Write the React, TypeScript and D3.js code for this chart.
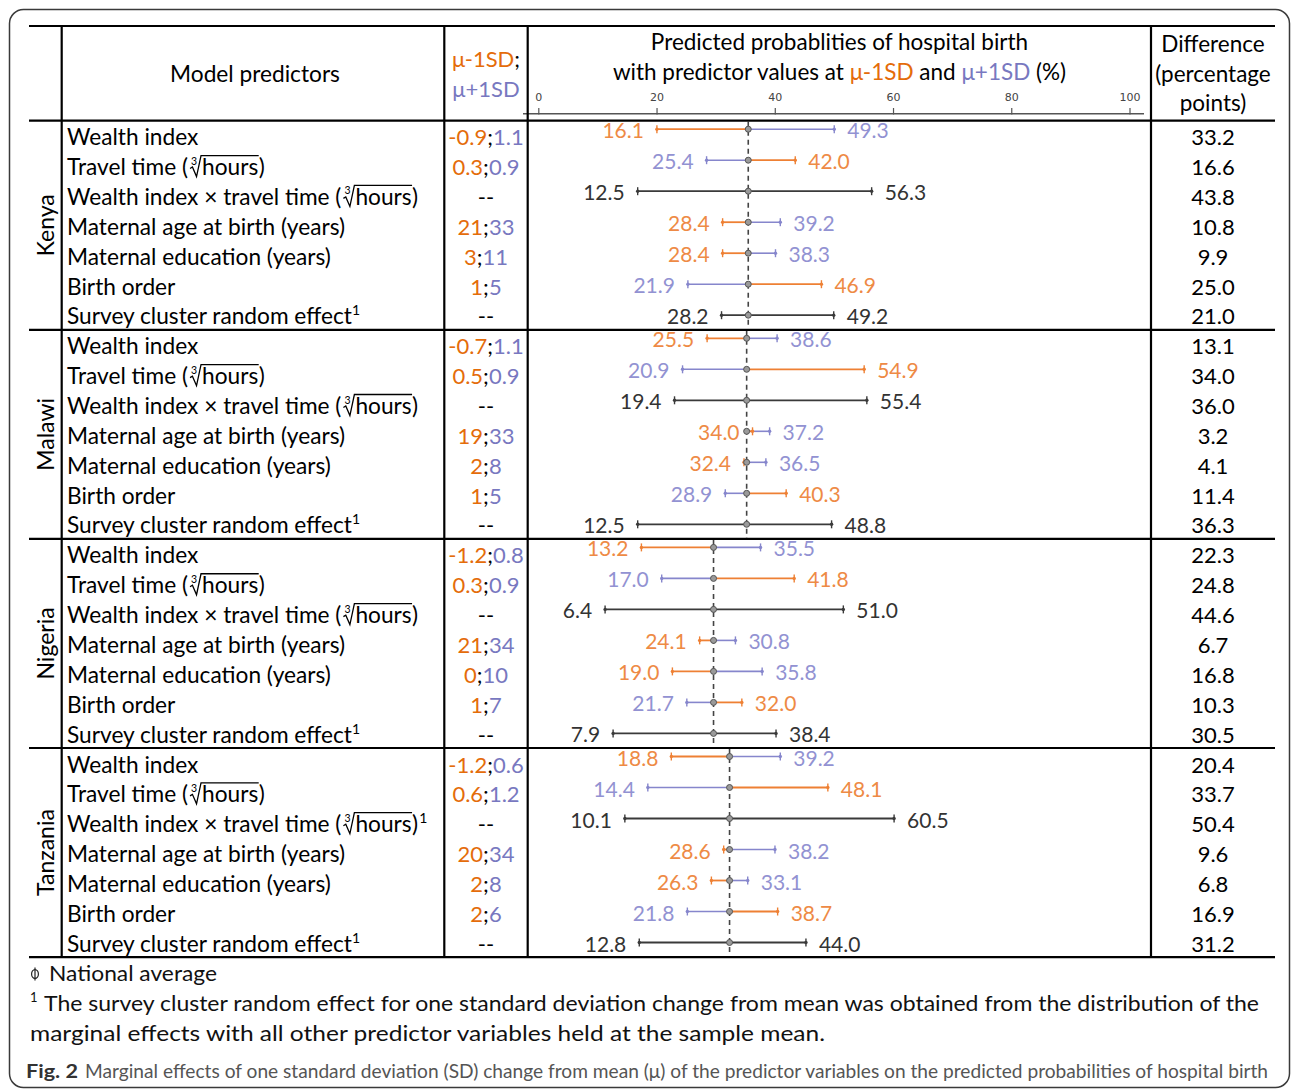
import React from 'react';
import * as d3 from 'd3';

// ---------- data ----------
const countries = ['Kenya', 'Malawi', 'Nigeria', 'Tanzania'];
const nationalAverage = [33.2, 32.9, 26.7, 29.7];

// predictor kinds (label rendering), index 2 and 6 are black (two-sided) rows
const predictorKinds = ['wealth', 'travel', 'interaction', 'age', 'education', 'birth', 'survey'];
const blackRows = [2, 6];

// μ-1SD ; μ+1SD predictor values
const kenyaSD = [['-0.9', '1.1'], ['0.3', '0.9'], null, ['21', '33'], ['3', '11'], ['1', '5'], null];
const malawiSD = [['-0.7', '1.1'], ['0.5', '0.9'], null, ['19', '33'], ['2', '8'], ['1', '5'], null];
const nigeriaSD = [['-1.2', '0.8'], ['0.3', '0.9'], null, ['21', '34'], ['0', '10'], ['1', '7'], null];
const tanzaniaSD = [['-1.2', '0.6'], ['0.6', '1.2'], null, ['20', '34'], ['2', '8'], ['2', '6'], null];

// predicted probability at μ-1SD (orange) – or lower bound for black rows
const kenyaLow = [16.1, 42.0, 12.5, 28.4, 28.4, 46.9, 28.2];
const malawiLow = [25.5, 54.9, 19.4, 34.0, 32.4, 40.3, 12.5];
const nigeriaLow = [13.2, 41.8, 6.4, 24.1, 19.0, 32.0, 7.9];
const tanzaniaLow = [18.8, 48.1, 10.1, 28.6, 26.3, 38.7, 12.8];

// predicted probability at μ+1SD (purple) – or upper bound for black rows
const kenyaHigh = [49.3, 25.4, 56.3, 39.2, 38.3, 21.9, 49.2];
const malawiHigh = [38.6, 20.9, 55.4, 37.2, 36.5, 28.9, 48.8];
const nigeriaHigh = [35.5, 17.0, 51.0, 30.8, 35.8, 21.7, 38.4];
const tanzaniaHigh = [39.2, 14.4, 60.5, 38.2, 33.1, 21.8, 44.0];

// difference (percentage points)
const kenyaDiff = ['33.2', '16.6', '43.8', '10.8', '9.9', '25.0', '21.0'];
const malawiDiff = ['13.1', '34.0', '36.0', '3.2', '4.1', '11.4', '36.3'];
const nigeriaDiff = ['22.3', '24.8', '44.6', '6.7', '16.8', '10.3', '30.5'];
const tanzaniaDiff = ['20.4', '33.7', '50.4', '9.6', '6.8', '16.9', '31.2'];

const axisTicks = [0, 20, 40, 60, 80, 100];

const sdTable = [kenyaSD, malawiSD, nigeriaSD, tanzaniaSD];
const lowTable = [kenyaLow, malawiLow, nigeriaLow, tanzaniaLow];
const highTable = [kenyaHigh, malawiHigh, nigeriaHigh, tanzaniaHigh];
const diffTable = [kenyaDiff, malawiDiff, nigeriaDiff, tanzaniaDiff];

// ---------- styling ----------
const FONT = "Lato, 'Open Sans', sans-serif";
const ORANGE_T = '#E46C0A';
const PURPLE_T = '#7878C0';
const ORANGE_M = '#EE8034';
const PURPLE_M = '#8686CC';
const ORANGE_L = '#EE8A45';
const PURPLE_L = '#9292D2';
const BLACK_M = '#3A3A3A';

const W = 1292;
const H = 1090;

const LABEL_SIZE = 22.7;

const tableLeft = 29;
const tableRight = 1275;
const colX = [61.7, 444.3, 527.7, 1151];
const tableTop = 26;
const headerBottom = 120.7;
const sectionH = 209.1;
const rowH = 29.86;
const barStep = 31;

// data scale (as used for the marks) and the drawn axis scale
const xData = d3.scaleLinear().domain([0, 100]).range([570.9, 1105.1]);
const xAxis = d3.scaleLinear().domain([0, 100]).range([538.8, 1130]);

let measureCtx: CanvasRenderingContext2D | null = null;
function measure(text: string, size: number) {
  if (!measureCtx) {
    const c = document.createElement('canvas');
    measureCtx = c.getContext('2d');
  }
  if (!measureCtx) return text.length * size * 0.5;
  measureCtx.font = `${size}px Lato`;
  return measureCtx.measureText(text).width;
}

function RootLabel({ x, y, prefix, sup }: { x: number; y: number; prefix: string; sup: boolean }) {
  const wPre = measure(prefix, LABEL_SIZE);
  const r0 = x + wPre + 1;
  const hx = r0 + 13;
  const wH = measure('hours', LABEL_SIZE);
  const close = hx + wH + 0.5;
  const wClose = measure(')', LABEL_SIZE);
  const top = y - 19.5;
  const path = `M${r0 + 1},${y - 6.5} L${r0 + 3.4},${y - 8} L${r0 + 7.5},${y + 1.5} L${r0 + 12},${top} L${close},${top}`;
  return (
    <g fontFamily={FONT} fill="#000">
      <text x={x} y={y} fontSize={LABEL_SIZE}>{prefix}</text>
      <text x={r0 + 2} y={y - 10.5} fontSize={10.5}>3</text>
      <path d={path} fill="none" stroke="#000" strokeWidth={1.3} />
      <text x={hx} y={y} fontSize={LABEL_SIZE}>hours</text>
      <text x={close} y={y} fontSize={LABEL_SIZE}>)</text>
      {sup ? <text x={close + wClose + 1} y={y - 9} fontSize={14}>1</text> : null}
    </g>
  );
}

function PredictorLabel({ kind, country, x, y }: { kind: string; country: number; x: number; y: number }) {
  const plain = (s: string) => (
    <text x={x} y={y} fontSize={LABEL_SIZE} fontFamily={FONT} fill="#000">{s}</text>
  );
  switch (kind) {
    case 'wealth':
      return plain('Wealth index');
    case 'travel':
      return <RootLabel x={x} y={y} prefix="Travel time (" sup={false} />;
    case 'interaction':
      return <RootLabel x={x} y={y} prefix="Wealth index × travel time (" sup={country === 3} />;
    case 'age':
      return plain('Maternal age at birth (years)');
    case 'education':
      return plain('Maternal education (years)');
    case 'birth':
      return plain('Birth order');
    default:
      return (
        <text x={x} y={y} fontSize={LABEL_SIZE} fontFamily={FONT} fill="#000">
          <tspan>Survey cluster random effect</tspan>
          <tspan fontSize={14} dy={-9}>1</tspan>
        </text>
      );
  }
}

function EndMark({ x, y, color }: { x: number; y: number; color: string }) {
  return (
    <g>
      <line x1={x} x2={x} y1={y - 4} y2={y + 4} stroke={color} strokeWidth={1.4} />
      <circle cx={x} cy={y} r={1.7} fill={color} />
    </g>
  );
}

export default function App() {
  const sections = countries.map((c, ci) => {
    const top = headerBottom + ci * sectionH;
    const bottom = top + sectionH;
    const mean = nationalAverage[ci];
    const mx = xData(mean);
    return (
      <g key={c}>
        <text
          transform={`translate(54,${(top + bottom) / 2}) rotate(-90)`}
          textAnchor="middle"
          fontSize={23}
          fontFamily={FONT}
          fill="#000"
        >
          {c}
        </text>
        <line x1={mx} x2={mx} y1={top + 1} y2={bottom - 1} stroke="#444" strokeWidth={1.6} strokeDasharray="5,4" />
        {predictorKinds.map((kind, ri) => {
          const baseY = top + 24.5 + ri * rowH;
          const barY = top + 8.5 + ri * barStep;
          const sd = sdTable[ci][ri];
          const lo = lowTable[ci][ri];
          const hi = highTable[ci][ri];
          const isBlack = blackRows.includes(ri);
          const minV = Math.min(lo, hi);
          const maxV = Math.max(lo, hi);
          const loColor = isBlack ? BLACK_M : ORANGE_M;
          const hiColor = isBlack ? BLACK_M : PURPLE_M;
          const loLab = isBlack ? '#333' : ORANGE_L;
          const hiLab = isBlack ? '#333' : PURPLE_L;
          const minLab = minV === lo ? loLab : hiLab;
          const maxLab = maxV === lo ? loLab : hiLab;
          return (
            <g key={kind}>
              <PredictorLabel kind={kind} country={ci} x={67} y={baseY} />
              <text x={486} y={baseY} fontSize={22} fontFamily={FONT} textAnchor="middle" fill="#000">
                {sd ? (
                  <>
                    <tspan fill={ORANGE_T}>{sd[0]}</tspan>
                    <tspan fill="#000">;</tspan>
                    <tspan fill={PURPLE_T}>{sd[1]}</tspan>
                  </>
                ) : (
                  <tspan fill="#000">--</tspan>
                )}
              </text>
              <text x={1213} y={baseY} fontSize={22} fontFamily={FONT} textAnchor="middle" fill="#000">
                {diffTable[ci][ri]}
              </text>
              {isBlack ? (
                <line x1={xData(minV)} x2={xData(maxV)} y1={barY} y2={barY} stroke={BLACK_M} strokeWidth={1.8} />
              ) : (
                <>
                  <line x1={mx} x2={xData(hi)} y1={barY} y2={barY} stroke={hiColor} strokeWidth={1.6} />
                  <line x1={mx} x2={xData(lo)} y1={barY} y2={barY} stroke={loColor} strokeWidth={1.8} />
                </>
              )}
              <EndMark x={xData(hi)} y={barY} color={hiColor} />
              <EndMark x={xData(lo)} y={barY} color={loColor} />
              <circle cx={mx} cy={barY} r={3} fill="#9a9a9a" stroke="#555" strokeWidth={1} />
              <text x={xData(minV) - 13} y={barY + 9} fontSize={21} fontFamily={FONT} textAnchor="end" fill={minLab}>
                {minV.toFixed(1)}
              </text>
              <text x={xData(maxV) + 13} y={barY + 9} fontSize={21} fontFamily={FONT} fill={maxLab}>
                {maxV.toFixed(1)}
              </text>
            </g>
          );
        })}
      </g>
    );
  });

  const hLines = [tableTop, headerBottom, ...countries.map((_, i) => headerBottom + (i + 1) * sectionH)];
  const tableBottom = headerBottom + countries.length * sectionH;

  return (
    <svg
      width={W}
      height={H}
      viewBox={`0 0 ${W} ${H}`}
      style={{ position: 'absolute', left: 0, top: 0, background: '#fff' }}
    >
      <rect x={0} y={0} width={W} height={H} fill="#fff" />
      <rect x={9.5} y={9.5} width={1280} height={1078} rx={14} fill="none" stroke="#3a3a3a" strokeWidth={1.5} />

      {/* header */}
      <text x={255} y={82} fontSize={LABEL_SIZE} fontFamily={FONT} textAnchor="middle">Model predictors</text>
      <text x={486} y={67} fontSize={22} fontFamily={FONT} textAnchor="middle">
        <tspan fill={ORANGE_T}>μ-1SD</tspan>
        <tspan fill="#000">;</tspan>
      </text>
      <text x={486} y={97} fontSize={22} fontFamily={FONT} textAnchor="middle" fill={PURPLE_T}>μ+1SD</text>
      <text x={839.5} y={50} fontSize={22.5} fontFamily={FONT} textAnchor="middle">Predicted probablities of hospital birth</text>
      <text x={839.5} y={80} fontSize={22.5} fontFamily={FONT} textAnchor="middle">
        <tspan>with predictor values at </tspan>
        <tspan fill={ORANGE_T}>μ-1SD</tspan>
        <tspan> and </tspan>
        <tspan fill={PURPLE_T}>μ+1SD</tspan>
        <tspan> (%)</tspan>
      </text>
      <text x={1213} y={52} fontSize={22.5} fontFamily={FONT} textAnchor="middle">Difference</text>
      <text x={1213} y={82} fontSize={22.5} fontFamily={FONT} textAnchor="middle">(percentage</text>
      <text x={1213} y={111} fontSize={22.5} fontFamily={FONT} textAnchor="middle">points)</text>

      {/* axis */}
      <line x1={523} x2={1144} y1={113.7} y2={113.7} stroke="#555" strokeWidth={1.5} />
      {axisTicks.map((t) => (
        <g key={t}>
          <line x1={xAxis(t)} x2={xAxis(t)} y1={108} y2={114.5} stroke="#555" strokeWidth={1.2} />
          <text x={xAxis(t)} y={101} fontSize={11} fontFamily="'DejaVu Sans', sans-serif" textAnchor="middle" fill="#444">
            {t}
          </text>
        </g>
      ))}

      {sections}

      {/* table rules */}
      {hLines.map((y, i) => (
        <line key={'h' + i} x1={tableLeft} x2={tableRight} y1={y} y2={y} stroke="#000" strokeWidth={2.2} />
      ))}
      {colX.map((x, i) => (
        <line key={'v' + i} x1={x} x2={x} y1={tableTop} y2={tableBottom} stroke="#000" strokeWidth={2.2} />
      ))}

      {/* footnotes */}
      <g>
        <ellipse cx={35} cy={974} rx={3.4} ry={4.4} fill="none" stroke="#222" strokeWidth={1.2} />
        <line x1={35} x2={35} y1={967.5} y2={980.5} stroke="#222" strokeWidth={1.2} />
        <text x={49} y={981} fontSize={22} fontFamily={FONT} fill="#111" textLength={168} lengthAdjust="spacingAndGlyphs">
          National average
        </text>
        <text x={30} y={1002} fontSize={13} fontFamily={FONT} fill="#111">1</text>
        <text x={44} y={1011} fontSize={22} fontFamily={FONT} fill="#111" textLength={1215} lengthAdjust="spacingAndGlyphs">
          The survey cluster random effect for one standard deviation change from mean was obtained from the distribution of the
        </text>
        <text x={30} y={1041} fontSize={22} fontFamily={FONT} fill="#111" textLength={795} lengthAdjust="spacingAndGlyphs">
          marginal effects with all other predictor variables held at the sample mean.
        </text>
        <text x={26} y={1078} fontSize={19} fontWeight="bold" fontFamily={FONT} fill="#333" textLength={52} lengthAdjust="spacingAndGlyphs">
          Fig. 2
        </text>
        <text x={85} y={1078} fontSize={19} fontFamily={FONT} fill="#555" textLength={1183} lengthAdjust="spacingAndGlyphs">
          Marginal effects of one standard deviation (SD) change from mean (μ) of the predictor variables on the predicted probabilities of hospital birth
        </text>
      </g>
    </svg>
  );
}
